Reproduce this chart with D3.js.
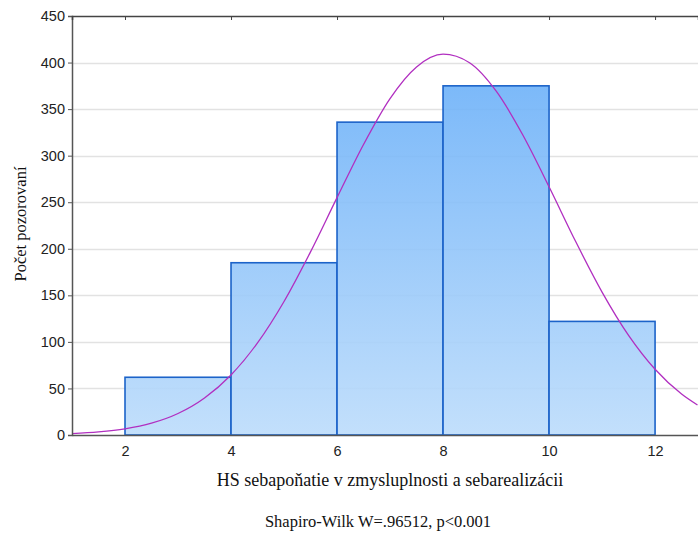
<!DOCTYPE html>
<html><head><meta charset="utf-8">
<script src="https://cdn.jsdelivr.net/npm/d3@7"></script>
<style>body{margin:0;background:#fff}svg{display:block}</style>
</head><body>
<svg id="c" width="698" height="533"></svg>
<script>
// Data
const binStarts = [2, 4, 6, 8, 10];
const binEnds = [4, 6, 8, 10, 12];
const counts = [62, 185, 336, 375, 122];
const curveX = [1, 1.5, 2, 2.5, 3, 3.5, 4, 4.5, 5, 5.5, 6, 6.5, 7, 7.5, 8, 8.5, 9, 9.5, 10, 10.5, 11, 11.5, 12, 12.5, 12.8];
const curveY = [1.5, 3.3, 6.6, 12.7, 23.1, 39.8, 64.5, 98.9, 143.4, 196.7, 254.9, 312.0, 361.3, 395.3, 409, 399.8, 369.5, 322.7, 266.6, 208.0, 153.5, 107.0, 70.6, 44.0, 32.2];
const xTicks = [2, 4, 6, 8, 10, 12];
const yTicks = [0, 50, 100, 150, 200, 250, 300, 350, 400, 450];
const xTitle = "HS sebapoňatie v zmysluplnosti a sebarealizácii";
const yTitle = "Počet pozorovaní";
const note = "Shapiro-Wilk W=.96512, p<0.001";

const svg = d3.select("#c");
const L = 72, R = 698, T = 16, B = 435;
const x = d3.scaleLinear().domain([1, 12.81]).range([L, R]);
const y = d3.scaleLinear().domain([0, 450]).range([B, T]);

const defs = svg.append("defs");
const g = defs.append("linearGradient").attr("id", "bf").attr("gradientUnits", "userSpaceOnUse")
  .attr("x1", 0).attr("x2", 0).attr("y1", T).attr("y2", B);
g.append("stop").attr("offset", "0").attr("stop-color", "#5ea9f8");
g.append("stop").attr("offset", "1").attr("stop-color", "#bcdcfb");

// grid
svg.append("g").selectAll("line").data(yTicks.filter(d => d > 0 && d < 450)).join("line")
  .attr("x1", L).attr("x2", R).attr("y1", d => Math.round(y(d)) + 0.5).attr("y2", d => Math.round(y(d)) + 0.5)
  .attr("stroke", "#e2e2e2").attr("stroke-width", 1.5);

// bars
svg.append("g").selectAll("rect").data(counts).join("rect")
  .attr("x", (d, i) => x(binStarts[i]))
  .attr("width", (d, i) => x(binEnds[i]) - x(binStarts[i]))
  .attr("y", d => y(d))
  .attr("height", d => B - y(d))
  .attr("fill", "url(#bf)").attr("fill-opacity", 0.9)
  .attr("stroke", "#1c63c9").attr("stroke-width", 1.6);

// curve
const line = d3.line().x((d, i) => x(curveX[i])).y(d => y(d)).curve(d3.curveMonotoneX);
svg.append("path").datum(curveY).attr("d", line)
  .attr("fill", "none").attr("stroke", "#b12fc0").attr("stroke-width", 1.3);

// axes
const yAxis = d3.axisLeft(y).tickValues(yTicks).tickSize(4).tickPadding(3);
const ya = svg.append("g").attr("transform", `translate(${L},0)`).call(yAxis);
ya.select(".domain").attr("stroke", "#555").attr("stroke-width", 1.5);
ya.selectAll(".tick line").attr("stroke", "#555");
ya.selectAll("text").attr("font-family", "Liberation Sans, Arial, sans-serif").attr("font-size", 14.5).attr("fill", "#222");

const xAxis = d3.axisBottom(x).tickValues(xTicks).tickSize(0).tickPadding(11).tickFormat(d3.format("d"));
const xa = svg.append("g").attr("transform", `translate(0,${B})`).call(xAxis);
xa.select(".domain").attr("stroke", "#555").attr("stroke-width", 1.5);
xa.selectAll("text").attr("font-family", "Liberation Sans, Arial, sans-serif").attr("font-size", 14.5).attr("fill", "#222");

// top border with inward ticks
const xt = d3.axisTop(x).tickValues(xTicks).tickSize(-4).tickFormat("");
const ta = svg.append("g").attr("transform", `translate(0,${T})`).call(xt);
ta.select(".domain").attr("stroke", "#444").attr("stroke-width", 1.5);
ta.selectAll(".tick line").attr("stroke", "#444");

// titles
svg.append("text").attr("x", 390).attr("y", 486).attr("text-anchor", "middle")
  .attr("font-family", "Liberation Serif, Times New Roman, serif").attr("font-size", 18).attr("fill", "#111").text(xTitle);
svg.append("text").attr("transform", "translate(26,224) rotate(-90)").attr("text-anchor", "middle")
  .attr("font-family", "Liberation Serif, Times New Roman, serif").attr("font-size", 16.5).attr("fill", "#111").text(yTitle);
svg.append("text").attr("x", 378).attr("y", 527).attr("text-anchor", "middle")
  .attr("font-family", "Liberation Serif, Times New Roman, serif").attr("font-size", 16.5).attr("fill", "#111").text(note);
</script>
</body></html>
